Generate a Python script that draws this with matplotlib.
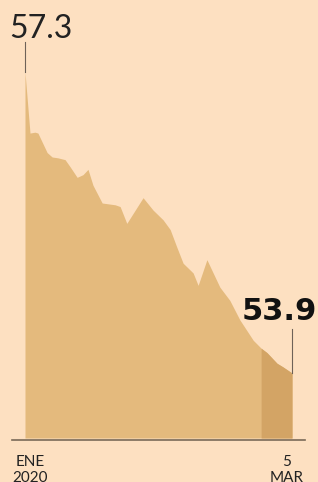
import numpy as np
import matplotlib
matplotlib.use("Agg")
import matplotlib.pyplot as plt

# days since 1 Jan 2020 and the values
days = [0, 1.2, 2.4, 3.1, 5.3, 6.5, 7.9, 9.6, 10.8, 12.5, 13.9, 15.1, 16.3,
        18.5, 21.6, 22.8, 24.4, 28.3, 30.7, 33.1, 34.8, 36.4, 37.9, 40.3,
        41.5, 43.6, 45.1, 46.7, 49.1, 51.5, 54.7, 56.6, 58.0, 60.4, 61.8, 64]
values = [57.30, 56.61, 56.62, 56.61, 56.39, 56.34, 56.33, 56.31, 56.23,
          56.11, 56.14, 56.20, 56.02, 55.82, 55.80, 55.78, 55.59, 55.88,
          55.74, 55.63, 55.52, 55.32, 55.14, 55.03, 54.89, 55.18, 55.03,
          54.87, 54.72, 54.50, 54.27, 54.18, 54.13, 54.01, 53.97, 53.90]
highlight_start = 56.6
tick_days = [1.2, 62.8]
tick_labels = ["ENE\n2020", "5\nMAR"]
first_label = "57.3"
last_label = "53.9"

bg = "#fde0c1"
fill_col = "#e4ba7d"
dark_col = "#d3a465"

days = np.array(days)
values = np.array(values)
base = 53.166

fig = plt.figure(figsize=(3.18, 4.82), dpi=100)
fig.patch.set_facecolor(bg)
ax = fig.add_axes([0, 0, 1, 1])
ax.set_facecolor(bg)
ax.set_xlim(-5.99, 70.23)
ax.set_ylim(52.669, 58.113)
ax.axis("off")

ax.fill_between(days, values, base, color=fill_col, lw=0)
m = days >= highlight_start
ax.fill_between(days[m], values[m], base, color=dark_col, lw=0)

# baseline
ax.plot([-3.1, 67.1], [53.143, 53.143], color="#7a6a58", lw=1.2)

# leader lines
ax.plot([days[0], days[0]], [57.3 + 0.34, values[0]], color="#6e6258", lw=0.8)
ax.plot([days[-1], days[-1]], [53.9 + 0.50, values[-1]], color="#6e6258", lw=0.8)

ax.text(days[0] - 3.7, 57.685, first_label, fontsize=23, family="Lato",
        color="#222222", ha="left", va="baseline")
ax.text(70.0, 54.50, last_label, fontsize=22, family="DejaVu Sans",
        fontweight="bold", color="#111111", ha="right", va="baseline")

for d, lab in zip(tick_days, tick_labels):
    ax.text(d, 52.975, lab, fontsize=11, family="Lato",
            color="#222222", ha="center", va="top", linespacing=1.15)

fig.savefig("out.png", dpi=100, facecolor=bg)
